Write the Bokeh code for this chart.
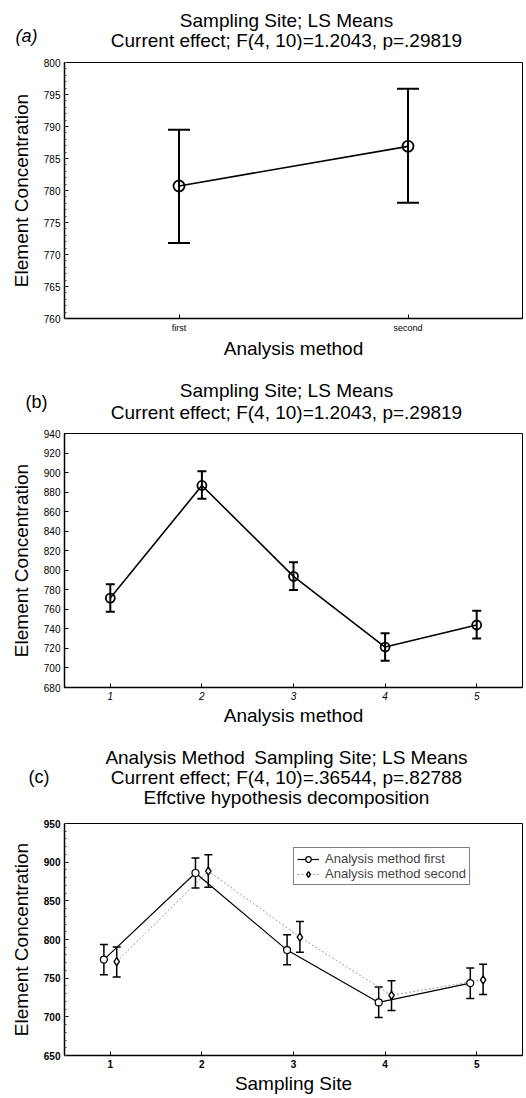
from bokeh.plotting import figure
from bokeh.models import (ColumnDataSource, Whisker, TeeHead, FactorRange, Range1d,
                          FixedTicker, Legend, LegendItem)
from bokeh.core.properties import value
from bokeh.layouts import column
from bokeh.transform import dodge
from bokeh.embed import file_html
from bokeh.resources import INLINE

FONT = "Liberation Sans"
W = 526
LEFT, RIGHT = 64, 4

# ---------------- data ----------------
# (a) Analysis method LS means
a_titles = ["Sampling Site; LS Means", "Current effect; F(4, 10)=1.2043, p=.29819"]
methods = ["first", "second"]
a_mean = [780.7, 786.9]
a_lower = [771.8, 778.1]
a_upper = [789.5, 795.9]
a_yticks = [760, 765, 770, 775, 780, 785, 790, 795, 800]

# (b) Sampling site LS means
b_titles = ["Sampling Site; LS Means", "Current effect; F(4, 10)=1.2043, p=.29819"]
b_sites = [1, 2, 3, 4, 5]
b_mean = [771.5, 886.8, 793.8, 721.4, 744.0]
b_lower = [757.6, 873.2, 779.8, 707.5, 730.2]
b_upper = [785.8, 901.4, 808.3, 735.6, 758.5]
b_yticks = [680, 700, 720, 740, 760, 780, 800, 820, 840, 860, 880, 900, 920, 940]

# (c) Analysis method x Sampling site
c_titles = ["Analysis Method\u2002Sampling Site; LS Means",
            "Current effect; F(4, 10)=.36544, p=.82788",
            "Effctive hypothesis decomposition"]
c_sites = [1, 2, 3, 4, 5]
c_first_mean = [774.0, 886.0, 786.3, 718.6, 743.6]
c_first_lower = [754.3, 866.5, 767.2, 699.2, 723.8]
c_first_upper = [793.6, 905.5, 806.3, 738.5, 763.2]
c_second_mean = [771.4, 888.5, 803.0, 727.8, 747.9]
c_second_lower = [751.6, 867.5, 783.5, 708.2, 728.8]
c_second_upper = [790.4, 909.5, 823.3, 746.6, 767.9]
c_yticks = [650, 700, 750, 800, 850, 900, 950]
legend_labels = ["Analysis method first", "Analysis method second"]
panel_tags = ["(a)", "(b)", "(c)"]


def title_fig(height, lines, line_y, tag, tag_y, tag_standoff, tag_style):
    # frame is aligned with the panels below (x 64..522), so data x == page x
    t = figure(width=W, height=height, x_range=Range1d(LEFT, W - RIGHT),
               y_range=Range1d(height, 0), x_axis_type=None,
               output_backend="svg", toolbar_location=None,
               min_border_left=LEFT, min_border_right=RIGHT,
               min_border_top=0, min_border_bottom=0)
    t.outline_line_color = None
    t.xgrid.visible = False
    t.ygrid.visible = False
    t.background_fill_color = "white"
    t.border_fill_color = "white"
    ax = t.yaxis[0]
    ax.ticker = FixedTicker(ticks=[tag_y], minor_ticks=[])
    ax.major_label_overrides = {tag_y: tag}
    ax.axis_line_color = None
    ax.major_tick_line_color = None
    ax.minor_tick_line_color = None
    ax.major_tick_in = 0
    ax.major_tick_out = 0
    ax.major_label_standoff = tag_standoff
    ax.major_label_text_font = FONT
    ax.major_label_text_font_size = "18px"
    ax.major_label_text_font_style = tag_style
    ax.major_label_text_color = "black"
    src = ColumnDataSource(dict(x=[286] * len(lines), y=line_y, text=lines))
    t.text("x", "y", "text", source=src, text_align="center", text_baseline="middle",
           text_font=value(FONT), text_font_size=value("19px"), text_color="black")
    return t


def style(p, xlabel, ylabel):
    p.outline_line_color = "black"
    p.outline_line_width = 1
    p.xgrid.visible = False
    p.ygrid.visible = False
    p.background_fill_color = "white"
    p.border_fill_color = "white"
    for ax in (p.xaxis[0], p.yaxis[0]):
        ax.axis_line_color = "black"
        ax.axis_line_width = 1.5
        ax.major_tick_in = 4
        ax.major_tick_out = 0
        ax.major_tick_line_color = "black"
        ax.minor_tick_in = 2
        ax.minor_tick_out = 0
        ax.minor_tick_line_color = "#444444"
        ax.major_label_text_font = FONT
        ax.major_label_text_font_size = "10px"
        ax.major_label_text_color = "black"
        ax.axis_label_text_font = FONT
        ax.axis_label_text_font_size = "19px"
        ax.axis_label_text_font_style = "normal"
        ax.axis_label_text_color = "black"
        ax.major_label_standoff = 4
    p.xaxis[0].axis_label = xlabel
    p.yaxis[0].axis_label = ylabel
    p.yaxis[0].axis_label_standoff = 9
    p.xaxis[0].axis_label_standoff = 2


common = dict(width=W, output_backend="svg", toolbar_location=None,
              min_border_left=LEFT, min_border_right=RIGHT)

# ---------------- (a) ----------------
ta = title_fig(50, a_titles, [20, 40], panel_tags[0], 35, 27, "italic")
pa = figure(height=312, x_range=FactorRange(*methods), y_range=Range1d(760, 800),
            min_border_top=12, min_border_bottom=44, **common)
style(pa, "Analysis method", "Element Concentration")
pa.yaxis[0].ticker = FixedTicker(ticks=a_yticks, minor_ticks=list(range(760, 801)))
pa.xaxis[0].major_label_text_font_size = "9px"
sa = ColumnDataSource(dict(method=methods, mean=a_mean, lower=a_lower, upper=a_upper))
pa.line("method", "mean", source=sa, line_color="black", line_width=1.6)
pa.add_layout(Whisker(source=sa, base="method", upper="upper", lower="lower",
                      line_color="black", line_width=2,
                      upper_head=TeeHead(size=22, line_width=2, line_color="black"),
                      lower_head=TeeHead(size=22, line_width=2, line_color="black")))
pa.scatter("method", "mean", source=sa, marker="circle", size=11, fill_color=None,
           line_color="black", line_width=1.8)

# ---------------- (b) ----------------
tb = title_fig(62, b_titles, [28, 50], panel_tags[1], 39, 17, "normal")
pb = figure(height=306, x_range=Range1d(0.5, 5.5), y_range=Range1d(680, 940),
            min_border_top=9, min_border_bottom=43, **common)
style(pb, "Analysis method", "Element Concentration")
pb.yaxis[0].ticker = FixedTicker(ticks=b_yticks, minor_ticks=[])
pb.xaxis[0].ticker = FixedTicker(ticks=b_sites, minor_ticks=[])
pb.xaxis[0].major_label_text_font_style = "italic"
sb = ColumnDataSource(dict(site=b_sites, mean=b_mean, lower=b_lower, upper=b_upper))
pb.line("site", "mean", source=sb, line_color="black", line_width=1.6)
pb.add_layout(Whisker(source=sb, base="site", upper="upper", lower="lower",
                      line_color="black", line_width=2,
                      upper_head=TeeHead(size=9, line_width=2, line_color="black"),
                      lower_head=TeeHead(size=9, line_width=2, line_color="black")))
pb.scatter("site", "mean", source=sb, marker="circle", size=9, fill_color=None,
           line_color="black", line_width=1.8)

# ---------------- (c) ----------------
tc = title_fig(80, c_titles, [27, 47, 67], panel_tags[2], 46, 15, "normal")
pc = figure(height=286, x_range=Range1d(0.5, 5.5), y_range=Range1d(650, 950),
            min_border_top=13, min_border_bottom=40, **common)
style(pc, "Sampling Site", "Element Concentration")
pc.yaxis[0].ticker = FixedTicker(ticks=c_yticks, minor_ticks=list(range(650, 951, 10)))
pc.xaxis[0].ticker = FixedTicker(ticks=c_sites, minor_ticks=[])
pc.xaxis[0].major_label_text_font_style = "bold"
pc.yaxis[0].major_label_text_font_style = "bold"

s1 = ColumnDataSource(dict(site=c_sites, mean=c_first_mean, lower=c_first_lower, upper=c_first_upper))
s2 = ColumnDataSource(dict(site=c_sites, mean=c_second_mean, lower=c_second_lower, upper=c_second_upper))

l2 = pc.line(dodge("site", 0.07), "mean", source=s2, line_color="#9a9a9a", line_width=1,
             line_dash="2 2")
l1 = pc.line(dodge("site", -0.07), "mean", source=s1, line_color="black", line_width=1.2)
for src, off in ((s1, -0.07), (s2, 0.07)):
    pc.add_layout(Whisker(source=src, base=dodge("site", off), upper="upper", lower="lower",
                          line_color="black", line_width=1.5,
                          upper_head=TeeHead(size=8, line_width=1.5, line_color="black"),
                          lower_head=TeeHead(size=8, line_width=1.5, line_color="black")))
m1 = pc.scatter(dodge("site", -0.07), "mean", source=s1, marker="circle", size=7,
                fill_color="white", line_color="black", line_width=1.2)
m2 = pc.scatter(dodge("site", 0.07), "mean", source=s2, marker="diamond", size=8,
                fill_color="white", line_color="black", line_width=1.4)

legend = Legend(items=[LegendItem(label=legend_labels[0], renderers=[l1, m1]),
                       LegendItem(label=legend_labels[1], renderers=[l2, m2])],
                location=(229, 170), border_line_color="black", border_line_width=1,
                background_fill_color="white", background_fill_alpha=1,
                padding=3, spacing=0, margin=0, glyph_width=22, glyph_height=14,
                label_height=14, label_standoff=6,
                label_text_font=FONT, label_text_font_size="13px",
                label_text_font_style="normal")
pc.add_layout(legend)

layout = column(ta, pa, tb, pb, tc, pc, spacing=0)
open("out.html", "w").write(file_html(layout, INLINE))
